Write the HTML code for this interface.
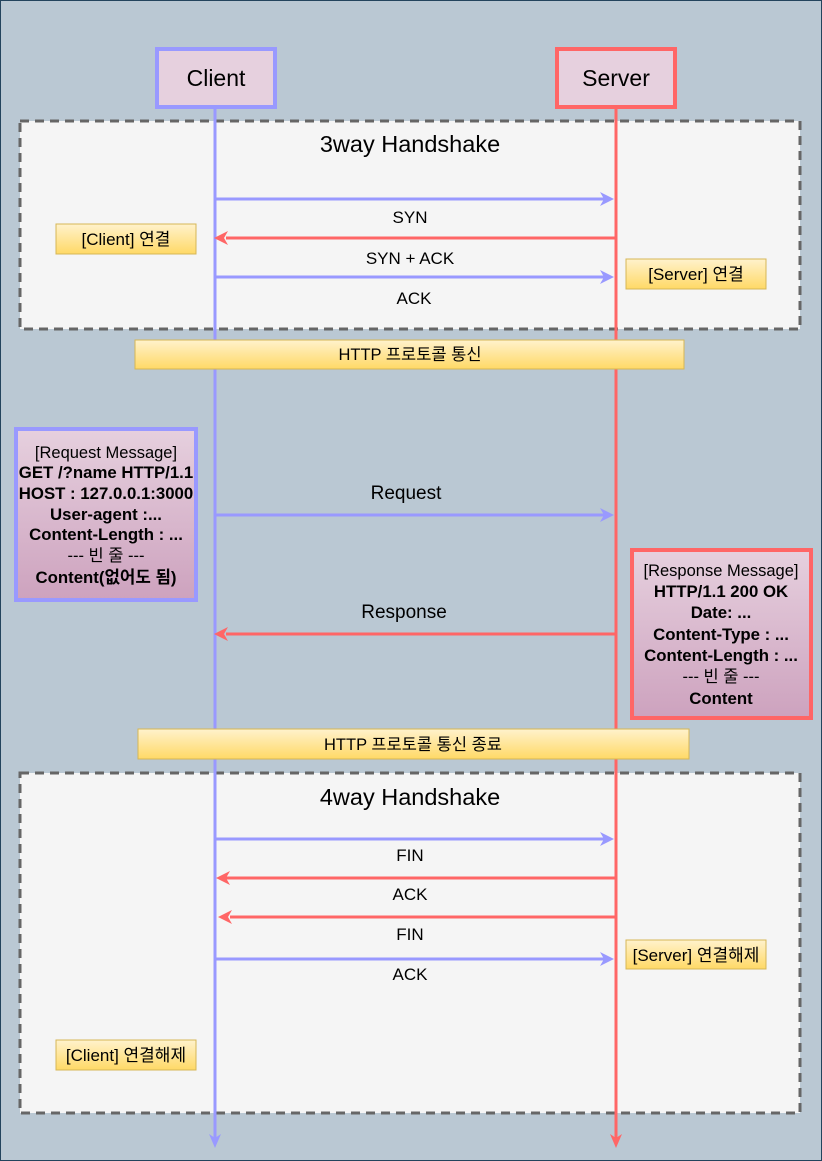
<!DOCTYPE html>
<html><head><meta charset="utf-8"><style>body{margin:0}svg{display:block}text{font-family:"Liberation Sans","Noto Sans CJK KR",sans-serif;fill:#000}</style></head><body>
<svg width="822" height="1161" xmlns="http://www.w3.org/2000/svg">
<defs>
<linearGradient id="y" x1="0" y1="0" x2="0" y2="1"><stop offset="0" stop-color="#fff2cc"/><stop offset="1" stop-color="#ffd966"/></linearGradient>
<linearGradient id="p" x1="0" y1="0" x2="0" y2="1"><stop offset="0" stop-color="#e6d0de"/><stop offset="1" stop-color="#cda2be"/></linearGradient>
</defs>
<rect x="0.5" y="0.5" width="821" height="1160" fill="#bac8d3" stroke="#23445d"/>
<rect x="20" y="121" width="780" height="208" fill="#f5f5f5" stroke="#666" stroke-width="3" stroke-dasharray="9,6"/>
<rect x="20" y="773" width="780" height="340" fill="#f5f5f5" stroke="#666" stroke-width="3" stroke-dasharray="9,6"/>
<text x="410" y="152" font-size="23.5" text-anchor="middle">3way Handshake</text>
<text x="410" y="805" font-size="23.5" text-anchor="middle">4way Handshake</text>
<line x1="215" y1="108" x2="215" y2="1140" stroke="#9999ff" stroke-width="3"/>
<polygon points="215,1148 209,1134 215,1138 221,1134" fill="#9999ff"/>
<line x1="616" y1="108" x2="616" y2="1140" stroke="#ff6666" stroke-width="3"/>
<polygon points="616,1148 610,1134 616,1138 622,1134" fill="#ff6666"/>
<rect x="157" y="49" width="118" height="58" fill="#e6d0de" stroke="#9999ff" stroke-width="4"/>
<text x="216" y="86" font-size="23" text-anchor="middle">Client</text>
<rect x="557" y="49" width="118" height="58" fill="#e6d0de" stroke="#ff6666" stroke-width="4"/>
<text x="616" y="86" font-size="23" text-anchor="middle">Server</text>
<g stroke-width="3">
<line x1="215" y1="199" x2="604" y2="199" stroke="#9999ff"/>
<line x1="226" y1="238" x2="616" y2="238" stroke="#ff6666"/>
<line x1="215" y1="277" x2="604" y2="277" stroke="#9999ff"/>
<line x1="215" y1="515" x2="604" y2="515" stroke="#9999ff"/>
<line x1="226" y1="634" x2="616" y2="634" stroke="#ff6666"/>
<line x1="215" y1="839" x2="604" y2="839" stroke="#9999ff"/>
<line x1="226" y1="878" x2="616" y2="878" stroke="#ff6666"/>
<line x1="230" y1="917" x2="616" y2="917" stroke="#ff6666"/>
<line x1="215" y1="959" x2="604" y2="959" stroke="#9999ff"/>
</g>
<g fill="#9999ff">
<polygon points="614,199 600,192 604,199 600,206"/>
<polygon points="614,277 600,270 604,277 600,284"/>
<polygon points="614,515 600,508 604,515 600,522"/>
<polygon points="614,839 600,832 604,839 600,846"/>
<polygon points="614,959 600,952 604,959 600,966"/>
</g>
<g fill="#ff6666">
<polygon points="214,238 228,231 224,238 228,245"/>
<polygon points="214,634 228,627 224,634 228,641"/>
<polygon points="216,878 230,871 226,878 230,885"/>
<polygon points="218,917 232,910 228,917 232,924"/>
</g>
<g font-size="17" text-anchor="middle">
<text x="410" y="223">SYN</text>
<text x="410" y="264">SYN + ACK</text>
<text x="414" y="304">ACK</text>
<text x="406" y="499" font-size="19">Request</text>
<text x="404" y="618" font-size="19">Response</text>
<text x="410" y="861">FIN</text>
<text x="410" y="900">ACK</text>
<text x="410" y="940">FIN</text>
<text x="410" y="980">ACK</text>
</g>
<g stroke="#d6b656" fill="url(#y)">
<rect x="56" y="224" width="140" height="30"/>
<rect x="626" y="259" width="140" height="30"/>
<rect x="135" y="340" width="549" height="29"/>
<rect x="138" y="729" width="551" height="30"/>
<rect x="626" y="940" width="140" height="29"/>
<rect x="56" y="1040" width="140" height="30"/>
</g>
<g font-size="17" text-anchor="middle">
<text x="126" y="245">[Client] 연결</text>
<text x="696" y="280">[Server] 연결</text>
<text x="410" y="360" font-size="16.5">HTTP 프로토콜 통신</text>
<text x="413" y="750" font-size="16.5">HTTP 프로토콜 통신 종료</text>
<text x="696" y="961">[Server] 연결해제</text>
<text x="126" y="1061">[Client] 연결해제</text>
</g>
<rect x="16" y="429" width="180" height="171" fill="url(#p)" stroke="#9999ff" stroke-width="4"/>
<g font-size="16.5" text-anchor="middle">
<text x="106" y="458">[Request Message]</text>
<g font-weight="bold" font-size="16.8">
<text x="106" y="478">GET /?name HTTP/1.1</text>
<text x="106" y="499">HOST : 127.0.0.1:3000</text>
<text x="106" y="520">User-agent :...</text>
<text x="106" y="540">Content-Length : ...</text>
<text x="106" y="583">Content(없어도 됨)</text>
</g>
<text x="106" y="561">--- 빈 줄 ---</text>
</g>
<rect x="632" y="550" width="179" height="168" fill="url(#p)" stroke="#ff6666" stroke-width="4"/>
<g font-size="16.5" text-anchor="middle">
<text x="721" y="576">[Response Message]</text>
<g font-weight="bold" font-size="16.8">
<text x="721" y="597">HTTP/1.1 200 OK</text>
<text x="721" y="618">Date: ...</text>
<text x="721" y="640">Content-Type : ...</text>
<text x="721" y="661">Content-Length : ...</text>
<text x="721" y="704">Content</text>
</g>
<text x="721" y="682">--- 빈 줄 ---</text>
</g>
</svg>
</body></html>
